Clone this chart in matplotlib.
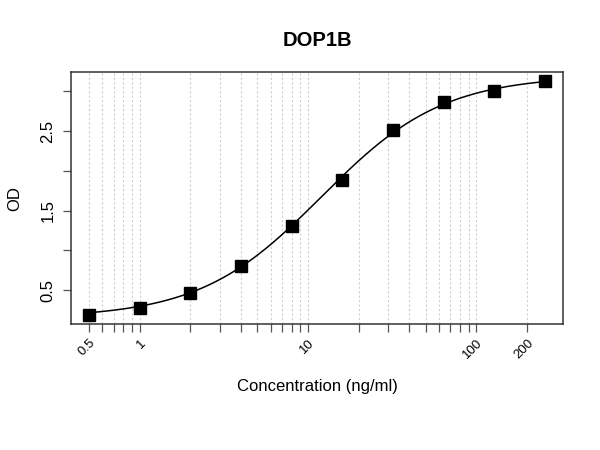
import numpy as np
import matplotlib.pyplot as plt
from matplotlib.ticker import FixedLocator, NullFormatter, NullLocator

plt.rcParams['font.family'] = ['Liberation Sans', 'DejaVu Sans']

# standards (ng/ml) and measured OD
conc = [0.5, 1, 2, 4, 8, 16, 32, 64, 128, 256]
od = [0.186, 0.27, 0.466, 0.81, 1.303, 1.88, 2.52, 2.87, 3.005, 3.127]

# 4PL fit parameters (bottom, top, ec50, slope)
fit_a = 0.15
fit_d = 3.2
fit_c = 12.0
fit_b = 1.2

grid_ticks = [0.5, 0.6, 0.7, 0.8, 0.9, 1, 2, 3, 4, 5, 6, 7, 8, 9, 10,
              20, 30, 40, 50, 60, 70, 80, 90, 100, 200]
x_labels = {0.5: '0.5', 1: '1', 10: '10', 100: '100', 200: '200'}
y_ticks = [0.5, 1.0, 1.5, 2.0, 2.5, 3.0]
y_labels = ['0.5', '', '1.5', '', '2.5', '']

fig = plt.figure(figsize=(6, 4.5), dpi=100)
ax = fig.add_axes([0.118, 0.279, 0.821, 0.561])

xs = np.logspace(np.log10(conc[0]), np.log10(conc[-1]), 300)
ys = fit_d + (fit_a - fit_d) / (1 + (xs / fit_c) ** fit_b)

for g in grid_ticks:
    ax.axvline(g, color='#cfcfcf', lw=0.8, ls=(0, (2, 2)), zorder=0)

ax.plot(xs, ys, color='black', lw=1.1, zorder=2)
ax.plot(conc, od, 's', color='black', ms=8, zorder=3)

ax.set_xscale('log')
lx = np.log10([conc[0], conc[-1]])
pad = (lx[1] - lx[0]) * 0.04
ax.set_xlim(10 ** (lx[0] - pad), 10 ** (lx[1] + pad))
pad_y = (max(od) - min(od)) * 0.04
ax.set_ylim(min(od) - pad_y, max(od) + pad_y)

ax.xaxis.set_major_locator(FixedLocator(grid_ticks))
ax.xaxis.set_minor_locator(NullLocator())
ax.xaxis.set_minor_formatter(NullFormatter())
ax.set_xticklabels([x_labels.get(g, '') for g in grid_ticks],
                   rotation=45, ha='right', va='top', rotation_mode='anchor',
                   fontsize=9.5)
ax.set_yticks(y_ticks)
ax.set_yticklabels(y_labels, rotation=90, va='center', fontsize=12)

ax.tick_params(axis='both', direction='out', length=6, width=0.9,
               color='#555555')
ax.tick_params(axis='x', pad=3)
ax.tick_params(axis='y', pad=5)
for s in ax.spines.values():
    s.set_linewidth(1.1)
    s.set_color('#333333')

ax.set_xlabel('Concentration (ng/ml)', fontsize=12, labelpad=13)
ax.set_ylabel('OD', fontsize=12, labelpad=13)
ax.set_title('DOP1B', fontsize=14.5, fontweight='bold', pad=19)

fig.savefig('out.png', dpi=100)
